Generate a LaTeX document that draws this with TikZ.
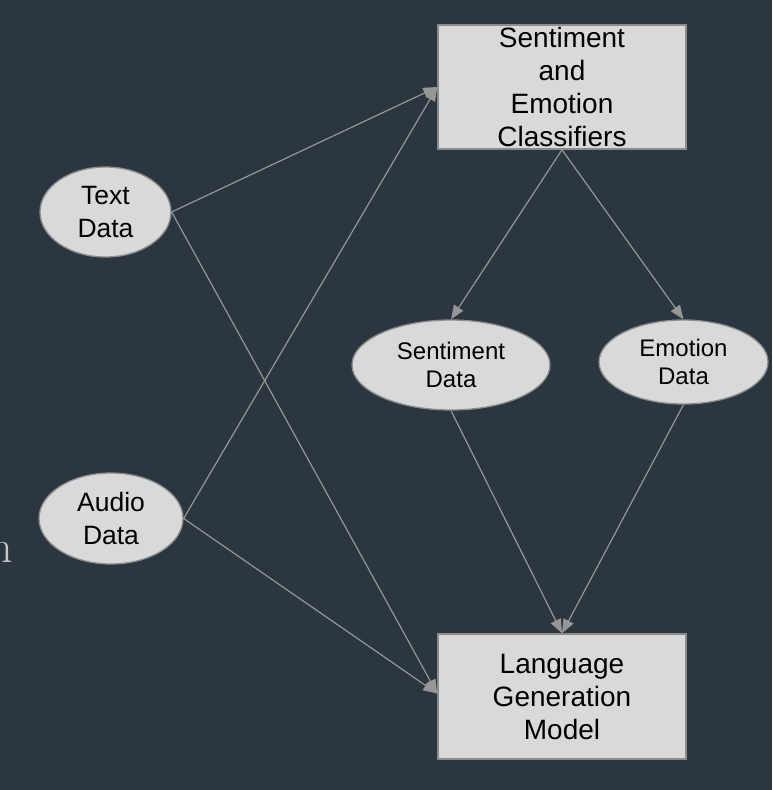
\documentclass[tikz,border=0pt]{standalone}
\usepackage{fontspec}
\setmainfont{Liberation Sans}
\newfontfamily\lmserif{Latin Modern Roman}
\usetikzlibrary{shapes.geometric,arrows.meta}
\definecolor{bgc}{RGB}{43,54,64}
\definecolor{boxfill}{RGB}{217,217,217}
\definecolor{boxline}{RGB}{140,140,140}
\definecolor{edgec}{RGB}{150,150,150}
\definecolor{fragc}{RGB}{200,200,200}
\begin{document}
\begin{tikzpicture}[x=1pt,y=-1pt,
  rectnode/.style={rectangle,draw=boxline,fill=boxfill,line width=1.5pt,
    minimum width=248pt,minimum height=124pt,inner sep=0pt,align=center,
    text=black,font=\fontsize{28}{33}\selectfont},
  bigell/.style={ellipse,draw=boxline,fill=boxfill,line width=1.3pt,inner sep=0pt,
    align=center,text=black,font=\fontsize{26.5}{32.5}\selectfont},
  smallell/.style={ellipse,draw=boxline,fill=boxfill,line width=1.3pt,inner sep=0pt,
    align=center,text=black,font=\fontsize{24}{28}\selectfont},
  edge/.style={draw=edgec,line width=1.2pt,-{Triangle[length=14pt,width=11pt]}}]
\fill[bgc] (0,0) rectangle (772,790);
\useasboundingbox (0,0) rectangle (772,790);
\node[anchor=base east,inner sep=0pt,text=fragc,font=\lmserif\fontsize{46}{50}\selectfont] (frag) at (13,562) {n};
\node[rectnode] (sec) at (562,87) {Sentiment\\and\\Emotion\\Classifiers};
\node[rectnode,minimum height=125pt] (lgm) at (562,696.5) {Language\\Generation\\Model};
\node[bigell,minimum width=131pt,minimum height=90pt] (td) at (105.5,212) {Text\\Data};
\node[bigell,minimum width=144pt,minimum height=91pt] (ad) at (111,518.5) {Audio\\Data};
\node[smallell,minimum width=198pt,minimum height=90pt] (sd) at (451,365) {Sentiment\\Data};
\node[smallell,minimum width=169pt,minimum height=84pt] (ed) at (683.5,362) {Emotion\\Data};
\draw[edge] (td.east) -- (sec.west);
\draw[edge] (td.east) -- ([yshift=3pt]lgm.west);
\draw[edge] (ad.east) -- (sec.west);
\draw[edge] (ad.east) -- ([yshift=3pt]lgm.west);
\draw[edge] (sec.south) -- (sd.north);
\draw[edge] (sec.south) -- (ed.north);
\draw[edge] (sd.south) -- (lgm.north);
\draw[edge] (ed.south) -- (lgm.north);
\end{tikzpicture}
\end{document}
